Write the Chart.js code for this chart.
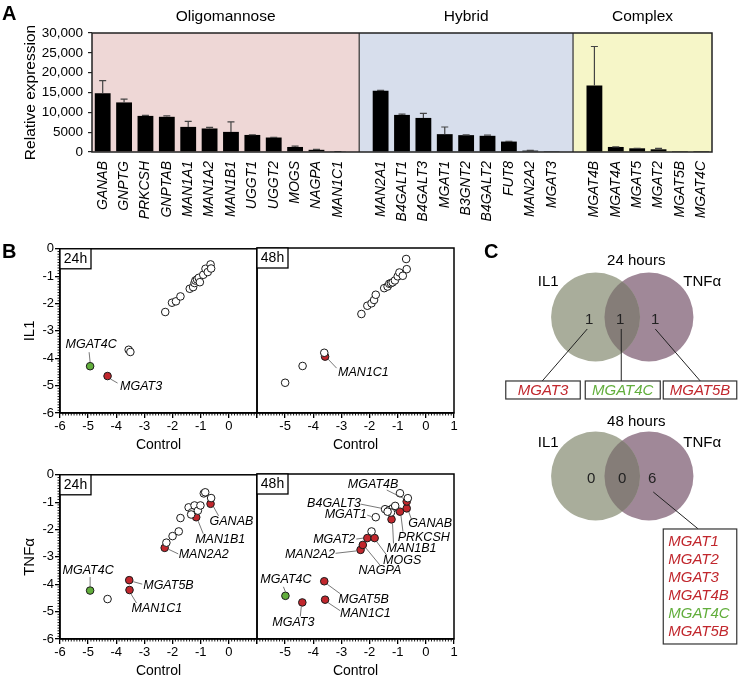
<!DOCTYPE html>
<html><head><meta charset="utf-8">
<script src="https://cdn.jsdelivr.net/npm/chart.js@4"></script>
<style>
body{margin:0;background:#fff;}
#wrap{position:relative;width:738px;height:678px;overflow:hidden;font-family:"Liberation Sans",Arial,sans-serif;background:#fff;}
canvas{position:absolute;}
.pl{position:absolute;font-weight:bold;font-size:20px;line-height:20px;color:#000;}
</style></head><body>
<div id="wrap">
<canvas id="cA" width="738" height="240" style="left:0;top:0;width:738px;height:240px"></canvas>
<canvas id="sTL" width="270" height="222" style="left:0;top:240px;width:270px;height:222px"></canvas>
<canvas id="sTR" width="218" height="222" style="left:252px;top:240px;width:218px;height:222px"></canvas>
<canvas id="sBL" width="270" height="222" style="left:0;top:466px;width:270px;height:222px"></canvas>
<canvas id="sBR" width="218" height="222" style="left:252px;top:466px;width:218px;height:222px"></canvas>
<canvas id="cV" width="258" height="420" style="left:480px;top:240px;width:258px;height:420px"></canvas>
<div class="pl" style="left:2px;top:3px">A</div>
<div class="pl" style="left:2px;top:241px">B</div>
<div class="pl" style="left:484px;top:241px">C</div>
</div>
<script>
// ---------------- Panel A data ----------------
const groupNames = ['Oligomannose', 'Hybrid', 'Complex'];
const oligoGenes = ['GANAB','GNPTG','PRKCSH','GNPTAB','MAN1A1','MAN1A2','MAN1B1','UGGT1','UGGT2','MOGS','NAGPA','MAN1C1'];
const oligoExpr  = [14800, 12500, 9100, 8870, 6330, 5930, 5070, 4300, 3650, 1270, 550, 100];
const oligoErr   = [3200, 850, 150, 230, 1370, 270, 2530, 50, 50, 230, 100, 20];
const hybridGenes = ['MAN2A1','B4GALT1','B4GALT3','MGAT1','B3GNT2','B4GALT2','FUT8','MAN2A2','MGAT3'];
const hybridExpr  = [15470, 9350, 8590, 4500, 4250, 4080, 2630, 350, 60];
const hybridErr   = [50, 210, 1170, 1800, 50, 170, 70, 50, 0];
const complexGenes = ['MGAT4B','MGAT4A','MGAT5','MGAT2','MGAT5B','MGAT4C'];
const complexExpr  = [16750, 1270, 930, 680, 50, 30];
const complexErr   = [9850, 30, 20, 220, 0, 0];
const yTicksA = [0, 5000, 10000, 15000, 20000, 25000, 30000];

// ---------------- Panel B data (log values: Control vs treatment) ----------------
const il1_24_ctrl  = [-3.56,-3.50,-2.26,-2.02,-1.88,-1.72,-1.39,-1.27,-1.22,-1.19,-1.13,-1.07,-1.03,-0.91,-0.83,-0.75,-0.65,-0.63,-4.93,-4.31];
const il1_24_val   = [-3.69,-3.77,-2.31,-1.97,-1.92,-1.74,-1.46,-1.40,-1.25,-1.16,-1.12,-1.06,-1.22,-0.95,-0.73,-0.85,-0.57,-0.72,-4.29,-4.65];
const il1_24_gene  = ['','','','','','','','','','','','','','','','','','','MGAT4C','MGAT3'];
const il1_24_state = ['o','o','o','o','o','o','o','o','o','o','o','o','o','o','o','o','o','o','g','r'];

const il1_48_ctrl  = [-3.61,-4.38,-5.00,-2.29,-2.08,-1.93,-1.84,-1.78,-1.48,-1.36,-1.30,-1.24,-1.18,-1.10,-1.00,-0.94,-0.82,-0.70,-0.68,-3.58];
const il1_48_val   = [-3.81,-4.29,-4.90,-2.40,-2.10,-2.01,-1.89,-1.70,-1.46,-1.40,-1.30,-1.28,-1.25,-1.18,-1.03,-0.89,-1.01,-0.40,-0.77,-3.95];
const il1_48_gene  = ['','','','','','','','','','','','','','','','','','','','MAN1C1'];
const il1_48_state = ['o','o','o','o','o','o','o','o','o','o','o','o','o','o','o','o','o','o','o','r'];

const tnf_24_ctrl  = [-4.31,-2.22,-2.00,-1.78,-1.72,-1.43,-1.31,-1.22,-1.10,-1.01,-1.34,-0.89,-0.84,-0.63,-4.93,-3.54,-3.53,-2.28,-1.16,-0.65];
const tnf_24_val   = [-4.54,-2.48,-2.24,-2.07,-1.58,-1.19,-1.37,-1.12,-1.31,-1.12,-1.45,-0.68,-0.64,-0.85,-4.23,-3.85,-4.21,-2.67,-1.55,-1.06];
const tnf_24_gene  = ['','','','','','','','','','','','','','','MGAT4C','MGAT5B','MAN1C1','MAN2A2','MAN1B1','GANAB'];
const tnf_24_state = ['o','o','o','o','o','o','o','o','o','o','o','o','o','o','g','r','r','r','r','r'];

const tnf_48_ctrl  = [-1.93,-1.78,-1.45,-1.30,-1.18,-1.09,-1.24,-1.36,-0.92,-0.64,-4.99,-4.39,-3.61,-3.58,-2.32,-2.24,-2.08,-1.82,-1.22,-0.92,-0.68,-0.68];
const tnf_48_val   = [-2.09,-1.57,-1.28,-1.31,-1.25,-1.16,-1.40,-1.37,-0.70,-0.88,-4.43,-4.67,-3.90,-4.57,-2.76,-2.58,-2.33,-2.33,-1.65,-1.37,-1.25,-1.00];
const tnf_48_gene  = ['','MGAT1','B4GALT3','','','','','','','','MGAT4C','MGAT3','MGAT5B','MAN1C1','MAN2A2','NAGPA','MGAT2','MOGS','MAN1B1','PRKCSH','GANAB','MGAT4B'];
const tnf_48_state = ['o','o','o','o','o','o','o','o','o','o','g','r','r','r','r','r','r','r','r','r','r','r'];

// ---------------- Panel C data ----------------
const vennSets = ['IL1', 'TNFα'];
const vennTimes = ['24 hours', '48 hours'];
const venn24Counts = [1, 1, 1];
const venn24Genes = ['MGAT3', 'MGAT4C', 'MGAT5B'];
const venn48Counts = [0, 0, 6];
const venn48Genes = ['MGAT1', 'MGAT2', 'MGAT3', 'MGAT4B', 'MGAT4C', 'MGAT5B'];

// ---------------- styling ----------------
const FONT = '"Liberation Sans", Arial, sans-serif';
Chart.defaults.font.family = FONT;
Chart.defaults.color = '#000';
const RED = '#c1272d', GREEN = '#62ae3c';
const geneColor = g => g === 'MGAT4C' ? GREEN : RED;

// ================= Panel A =================
const catsA = [...oligoGenes, '', ...hybridGenes, '', ...complexGenes];
const valsA = [...oligoExpr, null, ...hybridExpr, null, ...complexExpr];
const errsA = [...oligoErr, null, ...hybridErr, null, ...complexErr];
const gapIdx = [oligoGenes.length, oligoGenes.length + 1 + hybridGenes.length];
const regionColors = ['#eed7d6', '#d7deec', '#f6f6c8'];

const panelAPlugin = {
  id: 'panelA',
  beforeDatasetsDraw(chart) {
    const {ctx, chartArea: ca, scales: {x}} = chart;
    const b = [ca.left, x.getPixelForValue(gapIdx[0]), x.getPixelForValue(gapIdx[1]), ca.right];
    ctx.save();
    for (let i = 0; i < 3; i++) {
      ctx.fillStyle = regionColors[i];
      ctx.fillRect(b[i], ca.top, b[i+1] - b[i], ca.bottom - ca.top);
    }
    ctx.strokeStyle = '#555'; ctx.lineWidth = 1.5;
    [b[1], b[2]].forEach(px => { ctx.beginPath(); ctx.moveTo(px, ca.top); ctx.lineTo(px, ca.bottom); ctx.stroke(); });
    ctx.fillStyle = '#000'; ctx.font = '15.5px ' + FONT; ctx.textAlign = 'center'; ctx.textBaseline = 'middle';
    for (let i = 0; i < 3; i++) ctx.fillText(groupNames[i], (b[i] + b[i+1]) / 2, ca.top - 16);
    ctx.restore();
  },
  afterDatasetsDraw(chart) {
    const {ctx, chartArea: ca, scales: {x, y}} = chart;
    ctx.save();
    ctx.strokeStyle = '#444'; ctx.lineWidth = 1.2;
    valsA.forEach((v, i) => {
      const e = errsA[i];
      if (v == null || !e) return;
      const px = x.getPixelForValue(i);
      const y0 = y.getPixelForValue(v), y1 = y.getPixelForValue(v + e);
      ctx.beginPath(); ctx.moveTo(px, y0); ctx.lineTo(px, y1);
      ctx.moveTo(px - 3.5, y1); ctx.lineTo(px + 3.5, y1); ctx.stroke();
    });
    ctx.strokeStyle = '#222'; ctx.lineWidth = 1.5;
    ctx.strokeRect(ca.left, ca.top, ca.right - ca.left, ca.bottom - ca.top);
    ctx.restore();
  }
};

new Chart(document.getElementById('cA'), {
  type: 'bar',
  data: { labels: catsA, datasets: [{ data: valsA, backgroundColor: '#000', barPercentage: 0.74, categoryPercentage: 1 }] },
  options: {
    responsive: false, animation: false, devicePixelRatio: 1, events: [],
    layout: { padding: { top: 33, right: 26, left: 0, bottom: 0 } },
    plugins: { legend: { display: false }, tooltip: { enabled: false } },
    scales: {
      x: {
        afterFit: s => { s.height = 88; },
        grid: { display: false }, border: { display: false },
        ticks: { autoSkip: false, maxRotation: 90, minRotation: 90, padding: 1, font: { size: 14, style: 'italic' }, color: '#000' }
      },
      y: {
        min: 0, max: 30000,
        afterFit: s => { s.width = 92; },
        afterBuildTicks: s => { s.ticks = yTicksA.map(v => ({ value: v })); },
        grid: { drawOnChartArea: false, tickLength: 4, color: '#222', lineWidth: 1.2 },
        border: { display: false },
        ticks: { padding: 5, font: { size: 13.5 }, color: '#000',
          callback: v => v >= 10000 ? v.toLocaleString('en-US') : String(v) },
        title: { display: true, text: 'Relative expression', font: { size: 15.5 }, color: '#000', padding: { top: 21, bottom: 0 } }
      }
    }
  },
  plugins: [panelAPlugin]
});

// ================= Panel B =================
const labelLayout = {
  sTL: {
    MGAT4C: { t: [1, -22, 'center'], l: [0, -4, -1, -14] },
    MGAT3:  { t: [12.5, 10, 'left'], l: [3, 3, 10, 7] }
  },
  sTR: {
    MAN1C1: { t: [13, 16, 'left'], l: [3, 2.5, 11.5, 11.5] }
  },
  sBL: {
    MGAT4C: { t: [-2, -20, 'center'], l: [0, -4, 0, -13.5] },
    MGAT5B: { t: [14, 5, 'left'], l: [4, 1.5, 13, 4] },
    MAN1C1: { t: [2, 18.5, 'left'], l: [1.5, 4, 7, 13] },
    MAN2A2: { t: [14, 7, 'left'], l: [4, 1.5, 13.5, 6] },
    MAN1B1: { t: [-1, 22.5, 'left'], l: [2, 4, 7, 16.5] },
    GANAB:  { t: [-1, 18, 'left'], l: [3, 3, 8, 12] }
  },
  sBR: {
    MGAT4C: { t: [0.5, -16, 'center'], l: [0, -4, -2, -9] },
    MGAT3:  { t: [-9, 20, 'center'], l: [-1, 4, -2, 14] },
    MGAT5B: { t: [14, 18, 'left'], l: [3, 3, 16, 12.5] },
    MAN1C1: { t: [15, 13.6, 'left'], l: [3, 3, 15, 11] },
    MAN2A2: { t: [-25.6, 4.4, 'right'], l: [-4, 1, -25, 3.4] },
    NAGPA:  { t: [17, 25.7, 'center'], l: [3, 3, 17, 20] },
    MGAT2:  { t: [-12, 1, 'right'], l: [-4, 0, -11, 1] },
    MOGS:   { t: [8.4, 22, 'left'], l: [2, 3.5, 12, 17] },
    MAN1B1: { t: [-5, 29, 'left'], l: [1, 4, 2, 24] },
    PRKCSH: { t: [-2.3, 25.6, 'left'], l: [1, 4, 3, 20] },
    GANAB:  { t: [1.6, 15, 'left'], l: [2, 3.5, 5, 11.6] },
    MGAT4B: { t: [-8.4, -17, 'right'], l: [-3, -3, -20, -11.5] },
    B4GALT3:{ t: [-24, -5.7, 'right'], l: [-4, -1, -24, -5] },
    MGAT1:  { t: [-9, -3, 'right'], l: [-4, -0.5, -8.5, -2] }
  }
};

function scatterPanel(id, ctrl, val, gene, state, tag, yTitle, isLeft) {
  const pts = ctrl.map((c, i) => ({ x: c, y: val[i], g: gene[i], s: state[i] }));
  const mk = (s, fill) => ({ data: pts.filter(p => p.s === s), backgroundColor: fill, borderColor: '#1a1a1a', borderWidth: 1, pointRadius: 3.8 });
  const layout = labelLayout[id];
  const plug = {
    id: 'sc_' + id,
    afterDraw(chart) {
      const {ctx, chartArea: ca, scales: {x, y}} = chart;
      ctx.save();
      // minor ticks
      ctx.strokeStyle = '#000'; ctx.lineWidth = 0.9;
      for (let k = -60; k <= 10; k++) {
        if (k % 10 === 0) continue;
        const px = x.getPixelForValue(k / 10);
        ctx.beginPath(); ctx.moveTo(px, ca.bottom); ctx.lineTo(px, ca.bottom + 2.5); ctx.stroke();
      }
      if (isLeft) {
        for (let k = -60; k <= 0; k++) {
          if (k % 10 === 0) continue;
          const py = y.getPixelForValue(k / 10);
          ctx.beginPath(); ctx.moveTo(ca.left, py); ctx.lineTo(ca.left - 2.5, py); ctx.stroke();
        }
      }
      // frame
      ctx.strokeStyle = '#000'; ctx.lineWidth = 1.5;
      ctx.strokeRect(ca.left, ca.top, ca.right - ca.left, ca.bottom - ca.top);
      // tag box
      ctx.lineWidth = 1.3;
      ctx.fillStyle = '#fff';
      ctx.fillRect(ca.left, ca.top, 31, 20);
      ctx.strokeRect(ca.left, ca.top, 31, 20);
      ctx.fillStyle = '#000'; ctx.font = '14px ' + FONT; ctx.textAlign = 'center'; ctx.textBaseline = 'middle';
      ctx.fillText(tag, ca.left + 15.5, ca.top + 10.5);
      // annotations
      ctx.font = 'italic 12.5px ' + FONT;
      pts.forEach(p => {
        if (!p.g || !layout[p.g]) return;
        const L = layout[p.g];
        const px = x.getPixelForValue(p.x), py = y.getPixelForValue(p.y);
        ctx.strokeStyle = '#555'; ctx.lineWidth = 0.8;
        ctx.beginPath(); ctx.moveTo(px + L.l[0], py + L.l[1]); ctx.lineTo(px + L.l[2], py + L.l[3]); ctx.stroke();
        ctx.fillStyle = '#000'; ctx.textAlign = L.t[2]; ctx.textBaseline = 'middle';
        ctx.fillText(p.g, px + L.t[0], py + L.t[1]);
      });
      ctx.restore();
    }
  };
  new Chart(document.getElementById(id), {
    type: 'scatter',
    data: { datasets: [mk('o', '#fff'), mk('r', RED), mk('g', GREEN)] },
    options: {
      responsive: false, animation: false, devicePixelRatio: 1, events: [],
      layout: { padding: { top: 8, right: isLeft ? 13 : 16, left: isLeft ? 0 : 5, bottom: 0 } },
      plugins: { legend: { display: false }, tooltip: { enabled: false } },
      scales: {
        x: {
          type: 'linear', min: -6, max: 1,
          afterFit: s => { s.height = 49; },
          grid: { drawOnChartArea: false, tickLength: 5, color: '#000', lineWidth: 1.3 },
          border: { color: '#000', width: 1.5 },
          ticks: { stepSize: 1, padding: 1, font: { size: 13 }, color: '#000',
            callback: v => ((isLeft && v === 1) || (!isLeft && v === -6)) ? '' : String(v) },
          title: { display: true, text: 'Control', font: { size: 14 }, color: '#000', padding: { top: 0, bottom: 8 } }
        },
        y: {
          display: isLeft, type: 'linear', min: -6, max: 0,
          afterFit: s => { s.width = isLeft ? 60 : 0; },
          grid: { drawOnChartArea: false, tickLength: 5, color: '#000', lineWidth: 1.3 },
          border: { color: '#000', width: 1.5 },
          ticks: { stepSize: 1, padding: 1, font: { size: 13 }, color: '#000', callback: v => String(v) },
          title: { display: true, text: yTitle, font: { size: 15 }, color: '#000', padding: { top: 21, bottom: 0 } }
        }
      }
    },
    plugins: [plug]
  });
}

scatterPanel('sTL', il1_24_ctrl, il1_24_val, il1_24_gene, il1_24_state, '24h', 'IL1', true);
scatterPanel('sTR', il1_48_ctrl, il1_48_val, il1_48_gene, il1_48_state, '48h', 'IL1', false);
scatterPanel('sBL', tnf_24_ctrl, tnf_24_val, tnf_24_gene, tnf_24_state, '24h', 'TNFα', true);
scatterPanel('sBR', tnf_48_ctrl, tnf_48_val, tnf_48_gene, tnf_48_state, '48h', 'TNFα', false);

// ================= Panel C (Venn) =================
const vennRowY = [0, -3.573];
const vennCx = [-0.6, 0.6];
const vennFill = ['#a9ad9b', '#a08898'];
const vennOverlap = '#857d78';
const unitPx = chart => chart.scales.x.getPixelForValue(1) - chart.scales.x.getPixelForValue(0);

const vennPlugin = {
  id: 'venn',
  afterDatasetsDraw(chart) {
    const {ctx, scales: {x, y}} = chart;
    const u = unitPx(chart);
    ctx.save();
    vennRowY.forEach((ry, row) => {
      const cy = y.getPixelForValue(ry);
      const lx = x.getPixelForValue(vennCx[0]), rx = x.getPixelForValue(vennCx[1]);
      const cx = x.getPixelForValue(0);
      // overlap
      ctx.save();
      ctx.beginPath(); ctx.arc(lx, cy, u, 0, Math.PI * 2); ctx.clip();
      ctx.beginPath(); ctx.arc(rx, cy, u, 0, Math.PI * 2); ctx.fillStyle = vennOverlap; ctx.fill();
      ctx.restore();
      const counts = row === 0 ? venn24Counts : venn48Counts;
      const tdy = row === 0 ? -56 : -54, sdy = row === 0 ? -35 : -33;
      ctx.fillStyle = '#000'; ctx.font = '15px ' + FONT; ctx.textBaseline = 'middle'; ctx.textAlign = 'center';
      ctx.fillText(vennTimes[row], cx + 14, cy + tdy);
      ctx.fillText(vennSets[0], cx - 74, cy + sdy);
      ctx.fillText(vennSets[1], cx + 80, cy + sdy);
      const cdx = row === 0 ? [-33, -2, 33] : [-31, 0, 30];
      ctx.fillStyle = '#222';
      counts.forEach((c, i) => ctx.fillText(String(c), cx + cdx[i], cy + 2.5));
      ctx.strokeStyle = '#222'; ctx.lineWidth = 1;
      ctx.font = 'italic 15px ' + FONT;
      if (row === 0) {
        const lines = [[-35, 12, -80, 64], [-1, 12, -1, 64], [33, 12, 78, 64]];
        const boxes = [[-116.5, -42], [-37, 38], [41, 114.5]];
        lines.forEach(l => { ctx.beginPath(); ctx.moveTo(cx + l[0], cy + l[1]); ctx.lineTo(cx + l[2], cy + l[3]); ctx.stroke(); });
        boxes.forEach((b, i) => {
          ctx.fillStyle = '#fff'; ctx.fillRect(cx + b[0], cy + 64, b[1] - b[0], 18);
          ctx.strokeStyle = '#333'; ctx.lineWidth = 1.2; ctx.strokeRect(cx + b[0], cy + 64, b[1] - b[0], 18);
          ctx.fillStyle = geneColor(venn24Genes[i]); ctx.textAlign = 'center';
          ctx.fillText(venn24Genes[i], cx + (b[0] + b[1]) / 2, cy + 73.5);
        });
      } else {
        ctx.beginPath(); ctx.moveTo(cx + 31, cy + 16); ctx.lineTo(cx + 76, cy + 53); ctx.stroke();
        ctx.fillStyle = '#fff'; ctx.fillRect(cx + 41, cy + 53, 73.5, 115);
        ctx.strokeStyle = '#333'; ctx.lineWidth = 1.2; ctx.strokeRect(cx + 41, cy + 53, 73.5, 115);
        ctx.textAlign = 'left';
        venn48Genes.forEach((g, i) => { ctx.fillStyle = geneColor(g); ctx.fillText(g, cx + 46, cy + 66 + i * 17.9); });
      }
    });
    ctx.restore();
  }
};

const vennPts = [];
vennRowY.forEach(ry => vennCx.forEach(vx => vennPts.push({ x: vx, y: ry })));
new Chart(document.getElementById('cV'), {
  type: 'scatter',
  data: { datasets: [
    { data: vennPts.filter((p, i) => i % 2 === 0), backgroundColor: vennFill[0], borderWidth: 0, pointRadius: ctx => unitPx(ctx.chart) },
    { data: vennPts.filter((p, i) => i % 2 === 1), backgroundColor: vennFill[1], borderWidth: 0, pointRadius: ctx => unitPx(ctx.chart) }
  ] },
  options: {
    responsive: false, animation: false, devicePixelRatio: 1, events: [],
    layout: { padding: 0 },
    plugins: { legend: { display: false }, tooltip: { enabled: false } },
    scales: {
      x: { display: false, type: 'linear', min: -3.197, max: 2.601 },
      y: { display: false, type: 'linear', min: -7.708, max: 1.730 }
    }
  },
  plugins: [vennPlugin]
});
</script>
</body></html>
